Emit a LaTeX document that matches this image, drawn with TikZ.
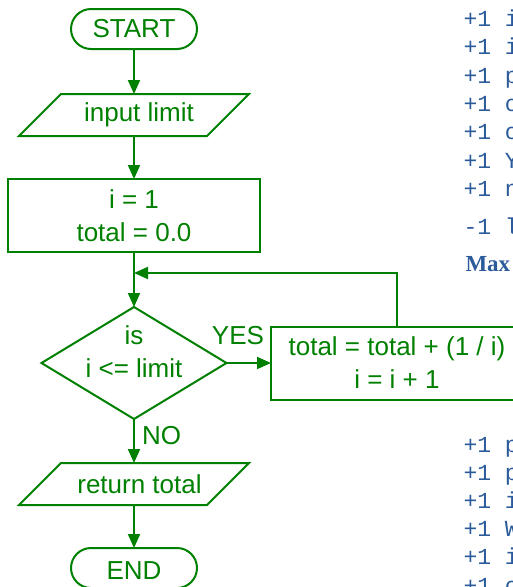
\documentclass[tikz,border=0pt]{standalone}
\usepackage{fontspec}
\setmainfont{Liberation Sans}
\newfontfamily\codefont{Liberation Mono}
\newfontfamily\notefont{Liberation Serif}
\usetikzlibrary{shapes.geometric,arrows.meta}
\definecolor{flow}{RGB}{0,128,0}
\definecolor{note}{RGB}{43,91,154}

\begin{document}
\begin{tikzpicture}[x=1pt,y=-1pt,
  every node/.style={inner sep=0pt,outer sep=0pt},
  line/.style={draw=flow,line width=2pt},
  arr/.style={line,-{Triangle[length=14pt,width=12pt]}},
  shapeline/.style={draw=flow,line width=2pt},
  terminal/.style={shapeline,rectangle,rounded corners=20pt,minimum width=126pt,minimum height=40pt},
  iobox/.style={rectangle,minimum width=230pt,minimum height=42pt},
  procbox/.style={shapeline,rectangle,minimum width=252pt,minimum height=73pt},
  decision/.style={shapeline,diamond,minimum width=185pt,minimum height=112pt},
  txt/.style={text=flow,font=\fontsize{26pt}{33pt}\selectfont,align=center},
  code/.style={text=note,font=\codefont\fontsize{23pt}{23pt}\selectfont,anchor=base west},
  heading/.style={text=note,font=\notefont\bfseries\fontsize{23pt}{23pt}\selectfont,anchor=base west},
]
\useasboundingbox (0,0) rectangle (513,587);
\clip (0,0) rectangle (513,587);

% flowchart shapes
\node[terminal,txt] (start) at (134,29) {START};
\node[iobox] (in) at (134,115) {};
\node[txt] (inT) at (139,115) {input limit};
\node[procbox,txt] (init) at (134,215.5) {i = 1\\total = 0.0};
\coordinate (merge) at (134,273);
\node[decision] (dec) at (134,363) {};
\node[txt] (decT) at (134,352) {is\\i <= limit};
\node[procbox,txt] (step) at (397,363) {total = total + (1 / i)\\i = i + 1};
\node[iobox] (ret) at (134,484) {};
\node[txt] (retT) at (139.5,484) {return total};
\node[terminal] (stop) at (134,568) {};
\node[txt] (stopT) at (134,571) {END};

% slanted outlines of the input/output boxes
\foreach \b in {in,ret}
  \draw[shapeline,line join=miter] (\b.south west) -- ([xshift=-42pt]\b.south east)
    -- (\b.north east) -- ([xshift=42pt]\b.north west) -- cycle;

% branch labels
\node[txt] (yes) at (238,335.7) {YES};
\node[txt] (no) at (161.5,435.7) {NO};

% connectors
\draw[arr] (start) -- (in);
\draw[arr] (in) -- (init);
\draw[arr] (init) -- (dec);
\draw[arr] (dec) -- (step);
\draw[arr] (step.north) |- (merge);
\draw[arr] (dec) -- (ret);
\draw[arr] (ret) -- (stop);

% side notes
\node[code] (n1) at (463.5,26) {+1 i};
\node[code] (n2) at (463.5,54) {+1 i};
\node[code] (n3) at (463.5,83) {+1 p};
\node[code] (n4) at (463.5,111) {+1 c};
\node[code] (n5) at (463.5,139) {+1 c};
\node[code] (n6) at (463.5,168) {+1 Y};
\node[code] (n7) at (463.5,196) {+1 n};
\node[code] (n8) at (463.5,234) {-1 l};
\node[heading] (n9) at (465.5,271) {Max};
\node[code] (m1) at (463.5,452) {+1 p};
\node[code] (m2) at (463.5,480) {+1 p};
\node[code] (m3) at (463.5,508) {+1 i};
\node[code] (m4) at (463.5,536) {+1 W};
\node[code] (m5) at (463.5,564) {+1 i};
\node[code] (m6) at (463.5,593) {+1 c};
\end{tikzpicture}
\end{document}
